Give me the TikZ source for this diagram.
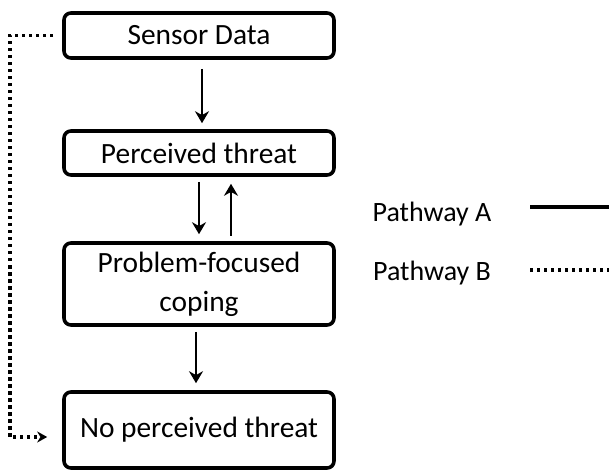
\documentclass[tikz,border=0pt]{standalone}
\usepackage{fontspec}
\setmainfont{Carlito}
\usetikzlibrary{arrows.meta}
\tikzset{
    stage/.style = {
        draw,
        line width=1.8pt,
        rounded corners=3.5pt,
        minimum width=135pt,
        inner sep=2pt,
        font=\fontsize{14.7}{19.5}\selectfont,
        align=center
    },
    flowa/.style = {
        line width=1.3pt,
        -{Stealth[length=6pt,width=7pt]}
    },
    flowb/.style = {
        line width=1.8pt,
        dash pattern=on 1.6pt off 1.9pt,
        -{Stealth[length=5pt,width=5.5pt]}
    },
    keytext/.style = {
        font=\fontsize{14}{17}\selectfont
    }
}

\begin{document}
\begin{tikzpicture}[x=0.5pt,y=-0.5pt]
    \useasboundingbox (0,0) rectangle (609,470);

    % Draw all stages
    \node[stage, minimum height=22.5pt] (sensor)    at (199,35.5) {Sensor Data};
    \node[stage, minimum height=22pt]   (perceived) at (199,153)  {Perceived threat};
    \node[stage, minimum height=41pt]   (coping)    at (199,284)  {Problem-focused\\coping};
    \node[stage, minimum height=38pt]   (nothreat)  at (199,430)  {No perceived threat};

    % Draw pathway A
    \draw[flowa, shorten <=4.5pt, shorten >=3pt]
        ([xshift=1.5pt]sensor.south) -- ([xshift=1.5pt]perceived.north);
    \draw[flowa, shorten <=2.5pt, shorten >=3.5pt]
        (perceived.south) -- (coping.north);
    \draw[flowa, shorten <=2.75pt, shorten >=3.5pt]
        ([xshift=16pt]coping.north) -- ([xshift=16pt]perceived.south);
    \draw[flowa, shorten <=2.5pt, shorten >=3.5pt]
        ([xshift=-1.5pt]coping.south) -- ([xshift=-1.5pt]nothreat.north);

    % Draw pathway B
    \coordinate (bend) at (10,437);
    \draw[flowb, shorten <=4.5pt, shorten >=7.5pt]
        (sensor.west) -| (bend) -- ([yshift=-3.5pt]nothreat.west);

    % Draw key
    \node[keytext] (keya) at (432,214) {Pathway A};
    \node[keytext] (keyb) at (432,273) {Pathway B};
    \coordinate (keyaend) at (609,207);
    \coordinate (keybend) at (609,270);
    \draw[line width=1.6pt] (530,207) -- (keyaend);
    \draw[line width=1.8pt, dash pattern=on 1.6pt off 1.9pt] (530,270) -- (keybend);
\end{tikzpicture}
\end{document}
